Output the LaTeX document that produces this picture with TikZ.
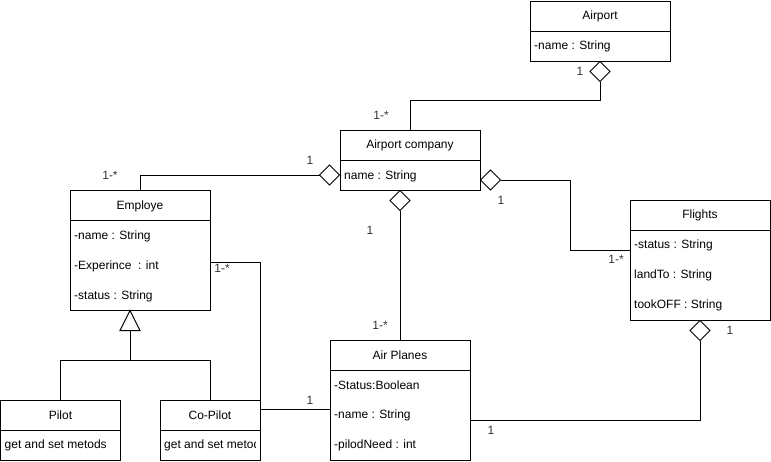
\documentclass[tikz,border=0pt]{standalone}
\usepackage{fontspec}
\setmainfont{Liberation Sans}
\usetikzlibrary{calc,shapes.geometric}
\begin{document}
\begin{tikzpicture}[x=1pt,y=-1pt,
  every node/.style={font=\fontsize{12}{14}\selectfont, inner sep=0pt},
  cls/.style={draw, line width=1pt, fill=white},
  row/.style={anchor=west},
  conn/.style={line width=1pt},
  dia/.style={draw, line width=1pt, fill=white, minimum width=20pt, minimum height=20pt, inner sep=0pt, outer sep=0pt, shape=diamond},
  mult/.style={text=black!80}]
\useasboundingbox (0,0) rectangle (771,461);
% Airport
\node[cls, minimum width=140pt, minimum height=60pt] (ap) at (600,31) {};
\draw[conn] (530,31) -- (670,31);
\node (apT) at (600,16) {Airport};
\node[row] (apA) at (534,46) {-name : String};
% Airport company
\node[cls, minimum width=140pt, minimum height=60pt] (apc) at (410,160) {};
\draw[conn] (apc.west) -- (apc.east);
\node (apcT) at (410,145) {Airport company};
\node[row] (apcA) at (344,176) {name : String};
% Employe
\node[cls, minimum width=140pt, minimum height=120pt] (emp) at (140,250) {};
\draw[conn] (70,220) -- (210,220);
\node (empT) at (140,206) {Employe};
\node[row] (empA) at (74,236) {-name : String};
\node[row] (empB) at (74,266) {-Experince~ : int};
\node[row] (empC) at (74,296) {-status : String};
% Pilot
\node[cls, minimum width=120pt, minimum height=60pt] (pil) at (60.5,430) {};
\draw[conn] (pil.west) -- (pil.east);
\node (pilT) at (60.5,415) {Pilot};
\node[row] (pilA) at (4.5,445) {get and set metods};
% Co-Pilot
\node[cls, minimum width=100pt, minimum height=60pt] (cop) at (210,430) {};
\draw[conn] (cop.west) -- (cop.east);
\node (copT) at (210,415) {Co-Pilot};
\begin{scope}
\clip (160,431) rectangle (255,459);
\node[row] (copA) at (164,445) {get and set metods};
\end{scope}
% Air Planes
\node[cls, minimum width=140pt, minimum height=120pt] (apl) at (400,400) {};
\draw[conn] (330,370) -- (470,370);
\node (aplT) at (400,355) {Air Planes};
\node[row] (aplA) at (334,385) {-Status:Boolean};
\node[row] (aplB) at (334,415) {-name : String};
\node[row] (aplC) at (334,445) {-pilodNeed : int};
% Flights
\node[cls, minimum width=140pt, minimum height=120pt] (fl) at (700,260) {};
\draw[conn] (630,230) -- (770,230);
\node (flT) at (700,215) {Flights};
\node[row] (flA) at (634,245) {-status : String};
\node[row] (flB) at (634,275) {landTo : String};
\node[row] (flC) at (634,305) {tookOFF : String};
% Airport -- Airport company
\node[dia, anchor=north] (d1) at (ap.south) {};
\draw[conn] (d1.south) -- ++(0,19) -| (apc.north);
\node[mult] (m1) at (580,71) {1};
\node[mult] (m2) at (381,115) {1-*};
% Employe -- Airport company
\node[dia, anchor=east] (d2) at ([yshift=-15pt]apc.west) {};
\draw[conn] (d2.west) -| (emp.north);
\node[mult] (m3) at (310,160) {1};
\node[mult] (m4) at (110,175) {1-*};
% Airport company -- Flights
\node[dia, anchor=west] (d3) at ([yshift=-20pt]apc.east) {};
\coordinate (f1) at ([yshift=10pt]fl.west);
\draw[conn] (d3.east) -- (570,180) coordinate (mid3) |- (f1);
\node[mult] (m5) at (501,200) {1};
\node[mult] (m6) at (616,259) {1-*};
% Airport company -- Air Planes
\node[dia, anchor=north] (d4) at ([xshift=-10pt]apc.south) {};
\draw[conn] (d4.south) -- (d4.south |- apl.north);
\node[mult] (m7) at (370,230) {1};
\node[mult] (m8) at (380,325) {1-*};
% Employe -- Co-Pilot
\coordinate (e1) at ([yshift=-12pt]emp.east);
\draw[conn] (e1) -| (cop.north east);
\node[mult] (m9) at (222,268) {1-*};
% Co-Pilot -- Air Planes
\coordinate (c1) at ([yshift=21pt]cop.east);
\draw[conn] (c1) -- (c1 -| apl.west);
\node[mult] (m10) at (310,400) {1};
% Air Planes -- Flights
\node[dia, anchor=north] (d5) at (fl.south) {};
\coordinate (a1) at ([yshift=-20pt]apl.east);
\draw[conn] (a1) -| (d5.south);
\node[mult] (m11) at (730,330) {1};
\node[mult] (m12) at (491,430) {1};
% Inheritance
\coordinate (t0) at ([xshift=-10pt]emp.south);
\draw[conn, fill=white] (t0) -- ++(-10,20) coordinate (tl) -- ++(20,0) coordinate (tr) -- cycle;
\coordinate (tb) at ($(tl)!0.5!(tr)$);
\draw[conn] (tb) -- ++(0,30) coordinate (tj);
\draw[conn] (pil.north) |- (tj) -| (cop.north);
\end{tikzpicture}
\end{document}
